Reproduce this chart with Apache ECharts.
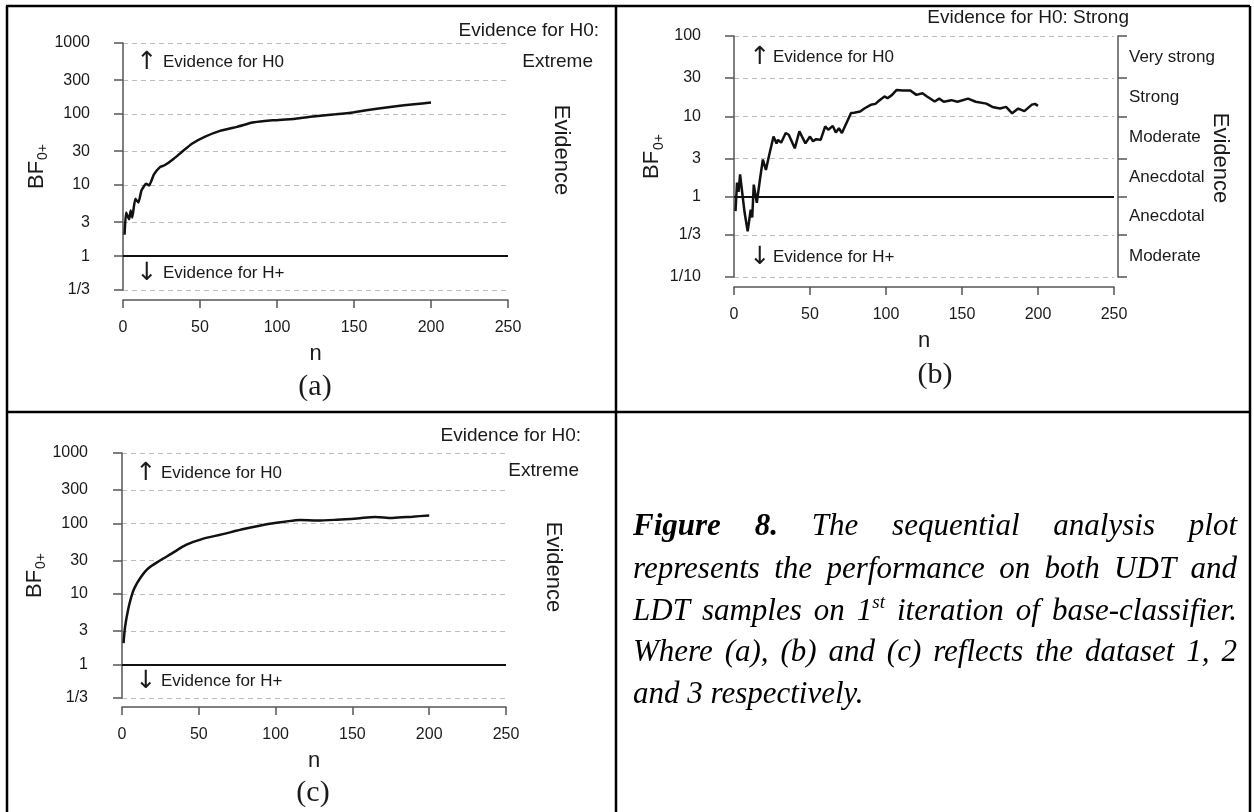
<!DOCTYPE html>
<html><head><meta charset="utf-8">
<script src="https://cdn.jsdelivr.net/npm/echarts@6/dist/echarts.min.js"></script>
<style>html,body{margin:0;padding:0;background:#fff}#c{width:1254px;height:812px}</style>
</head><body><div id="c"></div>
<script>
// ---------------- data ----------------
const nA  = [1,2,4,5,6,8,10,12,15,17,20,24,27,33,38,45,53,63,74,84,92,99,112,125,138,150,166,176,189,200];
const bfA = [2.0,4.1,3.3,4.4,3.5,6.4,5.7,8.4,10.4,9.9,14,17.9,19,23.5,29,38.5,47.8,58,66,76,80,82,86,93,99,106,120,128,137,145];

const nB  = [1,2,3,4,5,7,9,11,12,13,15,17,19,21,23,26,28,29,31,34,36,40,43,47,50,52,54,57,60,62,65,67,69,71,77,79,83,86,90,93,96,99,101,104,107,111,116,120,124,127,132,135,138,143,147,154,159,166,170,175,179,183,187,191,196,198,200];
const bfB = [0.66,1.5,1.15,1.9,1.3,0.63,0.37,0.69,0.55,1.41,0.84,1.6,2.9,2.15,3.2,5.6,4.6,5.1,4.7,6.2,5.9,4.0,6.5,4.6,5.6,4.9,5.2,5.1,7.5,6.8,7.6,6.3,7.1,6.2,11.0,11.1,11.5,12.6,13.9,14.3,16.0,17.7,16.8,18.5,21.3,21.0,21.0,18.5,19.4,17.7,15.3,16.6,15.2,15.9,15.2,16.6,15.2,14.4,13.1,12.5,13.1,10.9,12.5,11.6,14.0,14.3,13.5];

const nC  = [1,2,4,6,8,12,17,25,32,42,52,65,80,96,106,116,127,140,153,165,176,189,200];
const bfC = [2.0,3.4,6,9,12,17,23,30,37,50,60,70,84,99,106,112,110,113,118,124,120,125,130];

const xTicks = [0,50,100,150,200,250];
const yValsAC = [1/3,1,3,10,30,100,300,1000];
const yLabsAC = ['1/3','1','3','10','30','100','300','1000'];
const yValsB  = [0.1,1/3,1,3,10,30,100];
const yLabsB  = ['1/10','1/3','1','3','10','30','100'];
const evidLabsB = ['Moderate','Anecdotal','Anecdotal','Moderate','Strong','Very strong'];

const captionLines = [
  'Figure 8. The sequential analysis plot',
  'represents the performance on both UDT and',
  'LDT samples on 1st iteration of base-classifier.',
  'Where (a), (b) and (c) reflects the dataset 1, 2',
  'and 3 respectively.'
];

// ---------------- helpers ----------------
const SANS = '"Liberation Sans", Arial, sans-serif';
const SERIF = '"Liberation Serif", "Times New Roman", serif';
const AX = '#555', TXT = '#1a1a1a';

function nearestLabel(vals, labs){
  return function(v){
    let bi = 0, bd = Infinity;
    vals.forEach(function(t,i){ const d = Math.abs(Math.log(v) - Math.log(t)); if (d < bd){ bd = d; bi = i; } });
    return labs[bi];
  };
}
function pairs(xs, ys){ return xs.map(function(x,i){ return [x, ys[i]]; }); }

function xAxisCfg(gi, offset){
  return {
    gridIndex: gi, type: 'value', min: xTicks[0], max: xTicks[xTicks.length-1], interval: 50,
    position: 'bottom', offset: offset,
    axisLine: { show: true, onZero: false, lineStyle: { color: AX, width: 1.5 } },
    axisTick: { show: true, length: 8, lineStyle: { color: AX, width: 1.5 } },
    axisLabel: { color: TXT, fontSize: 16, fontFamily: SANS, margin: 20 },
    splitLine: { show: false },
    name: 'n', nameLocation: 'middle', nameGap: 43,
    nameTextStyle: { fontSize: 22, color: TXT, fontFamily: SANS }
  };
}
function yAxisCfg(gi, vals, labs, offset){
  return {
    gridIndex: gi, type: 'log', logBase: 10,
    min: vals[0] * 0.9999, max: vals[vals.length-1] * 1.0001,
    position: 'left', offset: offset,
    axisLine: { show: true, lineStyle: { color: AX, width: 1.5 } },
    axisTick: { show: true, length: 9, customValues: vals, lineStyle: { color: AX, width: 1.5 } },
    axisLabel: { customValues: vals, formatter: nearestLabel(vals, labs), color: TXT, fontSize: 16, fontFamily: SANS, margin: 17 },
    splitLine: { show: true, lineStyle: { color: '#bdbdbd', type: [5,4], width: 1.2 } },
    name: '{m|BF}{s|0+}', nameLocation: 'middle', nameGap: 51, nameRotate: 90,
    nameTextStyle: {
      color: TXT, fontFamily: SANS, fontSize: 22,
      rich: {
        m: { fontSize: 22, fontFamily: SANS, color: TXT, lineHeight: 28 },
        s: { fontSize: 14, fontFamily: SANS, color: TXT, lineHeight: 16, verticalAlign: 'bottom', padding: [0,0,0,1] }
      }
    }
  };
}
function seriesCfg(gi, yi, xs, ys, smooth){
  return {
    type: 'line', xAxisIndex: gi, yAxisIndex: yi, data: pairs(xs, ys),
    showSymbol: false, symbol: 'none', smooth: smooth || false,
    lineStyle: { color: '#111', width: 2.5 }, z: 5,
    markLine: {
      silent: true, symbol: 'none', label: { show: false }, animation: false,
      lineStyle: { color: '#111', width: 2, type: 'solid' },
      data: [ { yAxis: 1 } ]
    }
  };
}

const mids = [];
for (let i = 0; i < yValsB.length - 1; i++) mids.push(Math.sqrt(yValsB[i] * yValsB[i+1]));

// ---------------- graphic (table, annotations, caption) ----------------
const G = [];
function line(x1,y1,x2,y2,w){ G.push({ type:'line', silent:true, shape:{x1:x1,y1:y1,x2:x2,y2:y2}, style:{stroke:'#000', lineWidth:w||2.5} }); }
function text(x,y,t,font,align,rot,fill){
  G.push({ type:'text', silent:true, x:x, y:y, rotation: rot||0,
    style:{ text:t, font:font, fill: fill||TXT, align: align||'left', textAlign: align||'left', verticalAlign:'middle', textVerticalAlign:'middle' } });
}
// table borders
line(6,6,1250,6); line(7,6,7,812); line(616,6,616,812); line(1250,6,1250,812); line(6,412,1250,412);

const F19 = '19px ' + SANS, F17 = '17px ' + SANS, F22 = '22px ' + SANS, FAR = '25px "DejaVu Sans", sans-serif';
const ROT = -Math.PI/2;
// (a)
text(599,31,'Evidence for H0:',F19,'right');
text(593,62,'Extreme',F19,'right');
text(561,150,'Evidence',F22,'center',ROT);
text(147,62,'\u2191',FAR,'center'); text(163,62,'Evidence for H0',F17,'left');
text(147,273,'\u2193',FAR,'center'); text(163,273,'Evidence for H+',F17,'left');
text(315,387,'(a)','30px ' + SERIF,'center');
// (b)
text(1129,18,'Evidence for H0: Strong',F19,'right');
text(1220,158,'Evidence',F22,'center',ROT);
text(760,57,'\u2191',FAR,'center'); text(773,57,'Evidence for H0',F17,'left');
text(760,257,'\u2193',FAR,'center'); text(773,257,'Evidence for H+',F17,'left');
text(935,375,'(b)','30px ' + SERIF,'center');
// (c)
text(581,436,'Evidence for H0:',F19,'right');
text(579,471,'Extreme',F19,'right');
text(553,567,'Evidence',F22,'center',ROT);
text(146,473,'\u2191',FAR,'center'); text(161,473,'Evidence for H0',F17,'left');
text(146,681,'\u2193',FAR,'center'); text(161,681,'Evidence for H+',F17,'left');
text(313,793,'(c)','30px ' + SERIF,'center');

// caption (justified)
(function(){
  const cv = document.createElement('canvas').getContext('2d');
  const L = 633, R = 1237, W = R - L;
  const centers = [527, 570, 612, 653, 695];
  const FI = 'italic 31px ' + SERIF, FBI = 'italic bold 31px ' + SERIF, FSUP = 'italic 19px ' + SERIF;
  function mw(t, f){ cv.font = f; return cv.measureText(t).width; }
  captionLines.forEach(function(ln, li){
    const words = ln.split(' ').map(function(w, wi){
      if (li === 0 && wi < 2) return { parts: [{t:w, f:FBI}] };
      if (w === '1st') return { parts: [{t:'1', f:FI}, {t:'st', f:FSUP, sup:true}] };
      return { parts: [{t:w, f:FI}] };
    });
    words.forEach(function(w){ w.w = w.parts.reduce(function(s,p){ return s + mw(p.t, p.f); }, 0); });
    const sum = words.reduce(function(s,w){ return s + w.w; }, 0);
    const last = li === captionLines.length - 1;
    const gap = last ? mw(' ', FI) : (W - sum) / (words.length - 1);
    let x = L;
    words.forEach(function(w){
      let px = x;
      w.parts.forEach(function(p){
        text(px, centers[li] + (p.sup ? -9 : 0), p.t, p.f, 'left', 0, '#000');
        px += mw(p.t, p.f);
      });
      x += w.w + gap;
    });
  });
})();

// ---------------- chart ----------------
const chart = echarts.init(document.getElementById('c'), null, { renderer: 'canvas' });
chart.setOption({
  animation: false,
  backgroundColor: '#fff',
  grid: [
    { left: 123, top: 43, width: 385, height: 247, outerBoundsMode: 'none' },
    { left: 734, top: 36, width: 380, height: 241, outerBoundsMode: 'none' },
    { left: 122, top: 453, width: 384, height: 245, outerBoundsMode: 'none' }
  ],
  xAxis: [ xAxisCfg(0, 10), xAxisCfg(1, 10), xAxisCfg(2, 9) ],
  yAxis: [
    yAxisCfg(0, yValsAC, yLabsAC, 16),
    yAxisCfg(1, yValsB, yLabsB, 16),
    {
      gridIndex: 1, type: 'log', logBase: 10,
      min: yValsB[0] * 0.9999, max: yValsB[yValsB.length-1] * 1.0001,
      position: 'right', offset: 4,
      axisLine: { show: true, lineStyle: { color: AX, width: 1.5 } },
      axisTick: { show: true, length: 9, customValues: yValsB, lineStyle: { color: AX, width: 1.5 } },
      axisLabel: { customValues: mids, formatter: nearestLabel(mids, evidLabsB), color: TXT, fontSize: 17, fontFamily: SANS, margin: 11 },
      splitLine: { show: false }
    },
    yAxisCfg(2, yValsAC, yLabsAC, 17)
  ],
  series: [
    seriesCfg(0, 0, nA, bfA, 0.15),
    seriesCfg(1, 1, nB, bfB, false),
    seriesCfg(2, 3, nC, bfC, 0.3)
  ],
  graphic: { elements: G }
});
</script>
</body></html>
